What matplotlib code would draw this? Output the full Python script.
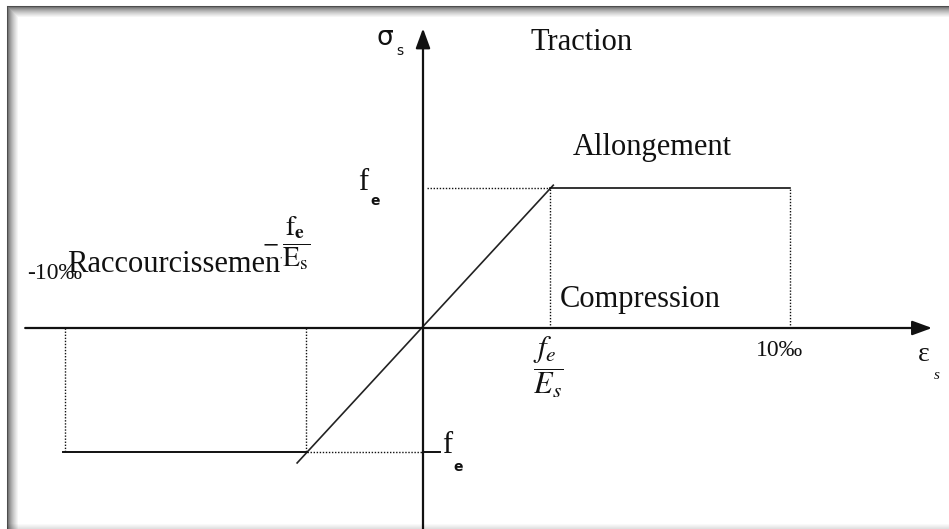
import numpy as np
import matplotlib
matplotlib.use("Agg")
import matplotlib.pyplot as plt
from matplotlib.lines import Line2D

plt.rcParams["font.family"] = ["Liberation Serif", "DejaVu Serif"]
plt.rcParams["mathtext.fontset"] = "stix"

# strain in per mille, stress in units of f_e
elastic_strain = [-3.43, 3.55]
elastic_stress = [-0.964, 1.02]
top_strain = [3.46, 10.0]
top_stress = [1.0, 1.0]
bottom_strain = [-9.8, -3.16]
bottom_stress = [-0.886, -0.886]

yield_strain_pos = 3.46
yield_strain_neg = -3.2
limit_strain_pos = 10.0
limit_strain_neg = -9.75
fe_pos = 1.0
fe_neg = -0.886

x_axis = [-10.84, 13.87]
y_axis = [-1.45, 2.14]

W, H = 949, 529
fig = plt.figure(figsize=(W / 100, H / 100), dpi=100)
ax = fig.add_axes([0, 0, 1, 1])
ax.set_xlim(-423 / 36.7, (W - 423) / 36.7)
ax.set_ylim(-(H - 328) / 140, 328 / 140)
ax.axis("off")

ink = "#111111"

# axes with arrows
ax.annotate("", xy=(x_axis[1], 0), xytext=(x_axis[0], 0),
            arrowprops=dict(arrowstyle="-|>,head_length=0.6,head_width=0.22",
                            color=ink, lw=1.6, mutation_scale=20,
                            shrinkA=0, shrinkB=0))
ax.annotate("", xy=(0, y_axis[1]), xytext=(0, y_axis[0]),
            arrowprops=dict(arrowstyle="-|>,head_length=0.6,head_width=0.22",
                            color=ink, lw=1.6, mutation_scale=20,
                            shrinkA=0, shrinkB=0))

# stress-strain law
ax.plot(elastic_strain, elastic_stress, color="#222222", lw=1.2)
ax.plot(top_strain, top_stress, color=ink, lw=1.2)
ax.plot(bottom_strain, bottom_stress, color=ink, lw=1.4)
ax.plot([0, 0.46], [fe_neg, fe_neg], color=ink, lw=1.4)

# dotted guides
dot = dict(color=ink, lw=1.0, ls=(0, (1, 1.2)))
ax.plot([0.1, yield_strain_pos], [fe_pos, fe_pos], **dot)
ax.plot([yield_strain_pos, yield_strain_pos], [0, fe_pos], **dot)
ax.plot([limit_strain_pos, limit_strain_pos], [0, fe_pos], **dot)
ax.plot([yield_strain_neg, yield_strain_neg], [0, fe_neg], **dot)
ax.plot([limit_strain_neg, limit_strain_neg], [0, fe_neg], **dot)
ax.plot([-3.16, 0], [fe_neg, fe_neg], **dot)

# labels
big = 22
ax.text(-1.04, 2.07, "σ", fontsize=19, ha="center", va="center", color=ink,
        family=["DejaVu Sans"])
ax.text(-0.63, 1.98, "s", fontsize=10, ha="center", va="center", color=ink,
        family=["DejaVu Sans"])
ax.text(4.31, 2.04, "Traction", fontsize=big, ha="center", va="center", color=ink)
ax.text(6.24, 1.29, "Allongement", fontsize=big, ha="center", va="center", color=ink)
ax.text(5.91, 0.2, "Compression", fontsize=big, ha="center", va="center", color=ink)

ax.text(-1.63, 1.04, "f", fontsize=big, ha="center", va="center", color=ink)
ax.text(-1.31, 0.91, "e", fontsize=10, ha="center", va="center", color=ink,
        family=["DejaVu Sans"], weight="bold")

ax.text(-9.70, 0.40, "Raccourcissement", fontsize=big, ha="left",
        va="baseline", color=ink)
ax.text(-10.05, 0.39, "-10‰", fontsize=17, ha="center", va="center", color=ink)
ax.text(-3.45, 0.61, r"$\dfrac{\mathrm{f}_{\mathbf{e}}}{\mathrm{E}_{\mathrm{s}}}$",
        fontsize=20, ha="center", va="center", color=ink,
        bbox=dict(facecolor="white", edgecolor="none", pad=0.0))
ax.text(-4.17, 0.60, r"$-$", fontsize=17, ha="center", va="center", color=ink)

ax.text(3.41, -0.28, r"$\dfrac{f_e}{E_s}$", fontsize=22, ha="center",
        va="center", color=ink)
ax.text(9.70, -0.16, "10‰", fontsize=17, ha="center", va="center", color=ink)
ax.text(13.65, -0.19, "ε", fontsize=20, ha="center", va="center", color=ink)
ax.text(14.0, -0.34, "s", fontsize=11, ha="center", va="center", color=ink,
        style="italic")

ax.text(0.65, -0.84, "f", fontsize=big, ha="center", va="center", color=ink)
ax.text(0.95, -0.99, "e", fontsize=10, ha="center", va="center", color=ink,
        family=["DejaVu Sans"], weight="bold")

# picture frame with soft shadow
for i in range(12):
    g = 0.3 + 0.7 * (i / 11) ** 0.6
    y = 1 - (6 + i) / H
    x = (7 + i) / W
    fig.add_artist(Line2D([x, 1], [y, y], transform=fig.transFigure,
                          color=(g, g, g), lw=0.75))
    fig.add_artist(Line2D([x, x], [0, y], transform=fig.transFigure,
                          color=(g, g, g), lw=0.75))
for i in range(5):
    y = (1 + i) / H
    fig.add_artist(Line2D([7 / W, 1], [y, y], transform=fig.transFigure,
                          color="black", alpha=0.12 * (1 - i / 5), lw=0.75))

fig.savefig("out.png", dpi=100)
